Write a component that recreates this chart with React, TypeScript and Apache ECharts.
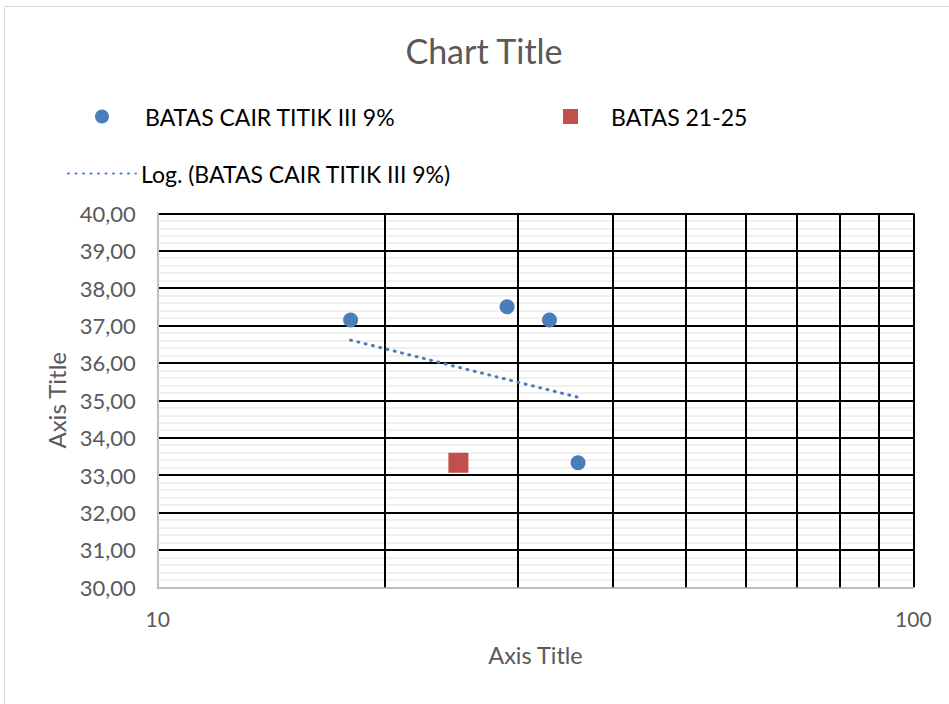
import React, { useEffect, useRef } from "react";
import * as echarts from "echarts";

const seriesName1 = "BATAS CAIR TITIK III 9%";
const seriesName2 = "BATAS 21-25";
const trendName = "Log. (BATAS CAIR TITIK III 9%)";

const batasCairX = [18, 29, 33, 36];
const batasCairY = [37.15, 37.5, 37.15, 33.33];

const batas2125X = [25];
const batas2125Y = [33.33];

// trendline endpoints (log fit, straight on log axis)
const trendX = [18, 36];
const trendY = [36.61, 35.08];

// major vertical gridlines of the log axis
const xMajorGrid = [20, 30, 40, 50, 60, 70, 80, 90];

const FONT = "Lato, 'Open Sans', sans-serif";
const TXT = "#595959";

export default function App() {
  const ref = useRef<HTMLDivElement>(null);
  useEffect(() => {
    if (!ref.current) return;
    const chart = echarts.init(ref.current, undefined, { renderer: "svg" });
    const pts1 = batasCairX.map((x, i) => [x, batasCairY[i]]);
    const pts2 = batas2125X.map((x, i) => [x, batas2125Y[i]]);
    const trend = trendX.map((x, i) => [x, trendY[i]]);
    chart.setOption({
      animation: false,
      backgroundColor: "#ffffff",
      textStyle: { fontFamily: FONT },
      title: {
        text: "Chart Title",
        left: 479,
        top: 28,
        textAlign: "center",
        textStyle: { fontFamily: FONT, fontSize: 34, fontWeight: "normal", color: TXT },
      },
      graphic: [
        {
          type: "rect",
          shape: { x: 4.5, y: 6.5, width: 1200, height: 1000 },
          style: { fill: "none", stroke: "#d9d9d9", lineWidth: 1 },
          silent: true,
          z: -10,
        },
      ],
      legend: [
        {
          data: [seriesName1],
          left: 95,
          top: 105,
          padding: 0,
          itemWidth: 14,
          itemHeight: 14,
          itemStyle: { opacity: 1 },
          textStyle: { fontFamily: FONT, fontSize: 23, color: "#000000", padding: [0, 0, 0, 31] },
        },
        {
          data: [seriesName2],
          left: 563,
          top: 105,
          padding: 0,
          itemWidth: 15,
          itemHeight: 15,
          itemStyle: { opacity: 1 },
          textStyle: { fontFamily: FONT, fontSize: 23, color: "#000000", padding: [0, 0, 0, 28] },
        },
        {
          data: [trendName],
          left: 67,
          top: 162,
          padding: 0,
          itemWidth: 68,
          itemHeight: 1,
          textStyle: { fontFamily: FONT, fontSize: 23, color: "#000000" },
        },
      ],
      grid: { left: 157.7, right: 35.7, top: 213.3, bottom: 116.7 },
      xAxis: {
        type: "log",
        logBase: 10,
        min: 10,
        max: 100,
        name: "Axis Title",
        nameLocation: "middle",
        nameGap: 56,
        nameTextStyle: { fontFamily: FONT, fontSize: 23.5, color: TXT },
        axisLine: { show: true, lineStyle: { color: "#bfbfbf", width: 2 } },
        axisTick: { show: false },
        axisLabel: { fontFamily: FONT, fontSize: 21, color: TXT, margin: 21 },
        splitLine: { show: true, showMinLine: false, lineStyle: { color: "#000000", width: 2 } },
      },
      yAxis: {
        type: "value",
        min: 30,
        max: 40,
        interval: 1,
        name: "Axis Title",
        nameLocation: "middle",
        nameGap: 88,
        nameRotate: 90,
        nameTextStyle: { fontFamily: FONT, fontSize: 24, color: TXT },
        axisLine: { show: true, lineStyle: { color: "#bfbfbf", width: 2 } },
        axisTick: { show: false },
        axisLabel: {
          fontFamily: FONT,
          fontSize: 22,
          color: TXT,
          margin: 22,
          formatter: (v: number) => v.toFixed(2).replace(".", ","),
        },
        minorTick: { show: false, splitNumber: 5 },
        minorSplitLine: { show: true, lineStyle: { color: "#ebebeb", width: 1.5 } },
        splitLine: { show: true, showMinLine: false, lineStyle: { color: "#000000", width: 2 } },
      },
      series: [
        {
          name: seriesName1,
          type: "scatter",
          data: pts1,
          symbol: "circle",
          symbolSize: 15,
          itemStyle: { color: "#4a7ebb", opacity: 1 },
          z: 5,
          markLine: {
            silent: true,
            symbol: "none",
            label: { show: false },
            lineStyle: { color: "#000000", width: 2, type: "solid" },
            data: xMajorGrid.map((v) => ({ xAxis: v })),
            z: 1,
          },
        },
        {
          name: seriesName2,
          type: "scatter",
          data: pts2,
          symbol: "rect",
          symbolSize: 20,
          itemStyle: { color: "#c0504d", opacity: 1 },
          z: 5,
        },
        {
          name: trendName,
          type: "line",
          data: trend,
          symbol: "none",
          showSymbol: false,
          lineStyle: { color: "#4a7ebb", width: 3, type: [1, 6.5], cap: "round" },
          z: 4,
        },
      ],
    });
    return () => chart.dispose();
  }, []);
  return (
    <div
      ref={ref}
      style={{ position: "fixed", left: 0, top: 0, width: 949, height: 704 }}
    />
  );
}
